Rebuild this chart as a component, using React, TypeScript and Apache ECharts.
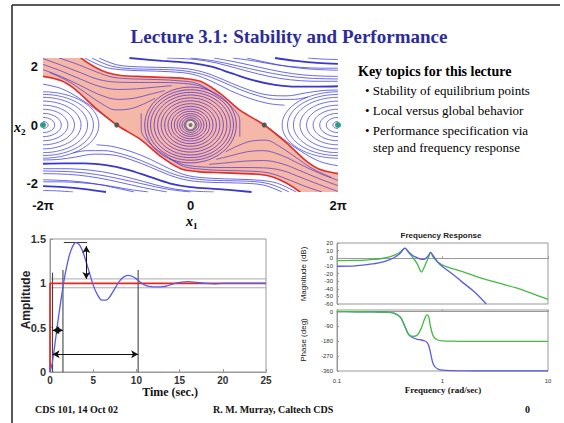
import React, { useEffect, useRef } from "react";
import * as echarts from "echarts";

const PI = Math.PI;
const SERIF = '"Liberation Serif", "Times New Roman", serif';
const SANS = '"Liberation Sans", Arial, sans-serif';

// ---------------- Phase portrait (x1, x2) ----------------
const xTickValues = [-2 * PI, 0, 2 * PI];
const xTickLabels = ["-2π", "0", "2π"];
const yTickValues = [-2, 0, 2];

const upperSep = [[-5.3, 2.75], [-4.66, 2.3], [-4.1, 2.0], [-3.53, 1.79], [-2.97, 1.7], [-2.0, 1.66], [-1.0, 1.63], [-0.3, 1.6], [0.42, 1.5], [1.27, 1.08], [2.12, 0.5], [3.14, 0], [4.1, -0.62], [4.94, -1.24], [5.5, -1.52], [6.28, -1.67], [7.0, -1.72]];
const lowerSep = [[-7.0, 1.72], [-6.28, 1.67], [-5.5, 1.52], [-4.94, 1.24], [-4.1, 0.62], [-3.14, 0], [-2.12, -0.5], [-1.27, -1.08], [-0.42, -1.5], [0.3, -1.6], [1.0, -1.63], [2.0, -1.66], [2.97, -1.7], [3.53, -1.79], [4.1, -2.0], [4.66, -2.3], [5.3, -2.75]];
const bandCorners = [[8.5, -4.5], [-8.5, 4.5]];

const centerRings = [[0.1, 0.08], [0.18, 0.13], [0.27, 0.19], [0.36, 0.25], [0.46, 0.32], [0.57, 0.39], [0.69, 0.47], [0.82, 0.55], [0.96, 0.64], [1.1, 0.73], [1.25, 0.83], [1.4, 0.93], [1.55, 1.03], [1.7, 1.12], [1.83, 1.21], [1.95, 1.3]];
const sideRings = [[0.22, 0.12], [0.5, 0.26], [0.78, 0.4], [1.06, 0.54], [1.34, 0.68], [1.62, 0.82], [1.9, 0.95], [2.15, 1.05], [2.38, 1.14]];

const topLines = [
  [[-4.5, 2.3], [-3.7, 2.0], [-3.0, 1.9], [-2.0, 1.86], [-0.9, 1.83], [0.1, 1.74], [0.9, 1.5], [1.7, 1.18], [2.5, 0.92], [3.3, 0.74], [4.0, 0.68]],
  [[-4.2, 2.3], [-3.4, 2.03], [-2.5, 1.93], [-1.4, 1.91], [-0.4, 1.87], [0.5, 1.74], [1.3, 1.5], [2.1, 1.22], [2.9, 1.0], [3.7, 0.88], [4.4, 0.88], [5.0, 0.96]],
  [[-3.9, 2.3], [-3.1, 2.06], [-2.0, 1.99], [-0.9, 1.97], [0.1, 1.9], [0.9, 1.72], [1.7, 1.45], [2.5, 1.2], [3.3, 1.03], [4.1, 1.0], [4.9, 1.1], [5.6, 1.18], [6.28, 1.2]],
  [[-1.0, 2.3], [0.2, 2.25], [1.1, 2.13], [2.0, 1.94], [2.9, 1.75], [3.8, 1.6], [4.7, 1.52], [5.5, 1.5], [6.28, 1.5]],
  [[0.0, 2.3], [1.0, 2.2], [2.0, 2.03], [3.0, 1.85], [4.0, 1.7], [5.0, 1.61], [6.28, 1.58]],
  [[1.0, 2.3], [2.0, 2.15], [3.0, 1.97], [3.9, 1.82], [4.8, 1.72], [5.6, 1.68], [6.28, 1.67]],
  [[1.8, 2.3], [2.7, 2.2], [3.7, 2.06], [4.7, 1.98], [5.6, 1.95], [6.28, 1.95]],
  [[2.4, 2.3], [3.3, 2.14], [4.2, 2.0], [5.1, 1.92], [6.28, 1.88]],
  [[5.0, 2.3], [5.7, 2.26], [6.28, 2.25]],
];
const topDarkLines = [
  [[-2.6, 2.3], [-1.2, 2.2], [0, 2.13], [0.9, 2.0], [1.8, 1.76], [2.7, 1.53], [3.6, 1.38], [4.5, 1.32], [5.4, 1.32], [6.28, 1.33]],
  [[3.6, 2.3], [4.5, 2.2], [5.4, 2.13], [6.28, 2.1]],
];
const bottomLines = [
  [[4.5, -2.3], [3.7, -2.0], [3.0, -1.9], [2.0, -1.86], [0.9, -1.83], [-0.1, -1.74], [-0.9, -1.5], [-1.7, -1.18], [-2.5, -0.92], [-3.3, -0.74], [-4.0, -0.68]],
  [[4.2, -2.3], [3.4, -2.03], [2.5, -1.93], [1.4, -1.91], [0.4, -1.87], [-0.5, -1.74], [-1.3, -1.5], [-2.1, -1.22], [-2.9, -1.0], [-3.7, -0.88], [-4.4, -0.88], [-5.0, -0.96]],
  [[3.9, -2.3], [3.1, -2.06], [2.0, -1.99], [0.9, -1.97], [-0.1, -1.9], [-0.9, -1.72], [-1.7, -1.45], [-2.5, -1.2], [-3.3, -1.03], [-4.1, -1.0], [-4.9, -1.1], [-5.6, -1.18], [-6.28, -1.2]],
  [[1.0, -2.3], [-0.2, -2.25], [-1.1, -2.13], [-2.0, -1.94], [-2.9, -1.75], [-3.8, -1.6], [-4.7, -1.52], [-5.5, -1.5], [-6.28, -1.5]],
  [[0.0, -2.3], [-1.0, -2.2], [-2.0, -2.03], [-3.0, -1.85], [-4.0, -1.7], [-5.0, -1.61], [-6.28, -1.58]],
  [[-1.0, -2.3], [-2.0, -2.15], [-3.0, -1.97], [-3.9, -1.82], [-4.8, -1.72], [-5.6, -1.68], [-6.28, -1.67]],
  [[-1.8, -2.3], [-2.7, -2.2], [-3.7, -2.06], [-4.7, -1.98], [-5.6, -1.95], [-6.28, -1.95]],
  [[-2.4, -2.3], [-3.3, -2.14], [-4.2, -2.0], [-5.1, -1.92], [-6.28, -1.88]],
  [[-5.0, -2.3], [-5.7, -2.26], [-6.28, -2.25]],
];
const bottomDarkLines = [
  [[2.6, -2.3], [1.2, -2.2], [0, -2.13], [-0.9, -2.0], [-1.8, -1.76], [-2.7, -1.53], [-3.6, -1.38], [-4.5, -1.32], [-5.4, -1.32], [-6.28, -1.33]],
  [[-3.6, -2.3], [-4.5, -2.2], [-5.4, -2.13], [-6.28, -2.1]],
];
const bandUpperLines = [
  [[-5.6, 2.3], [-4.8, 2.08], [-4.0, 1.82], [-3.3, 1.64], [-2.4, 1.58], [-1.4, 1.56], [-0.5, 1.52], [0.3, 1.42], [1.0, 1.08], [1.7, 0.66], [2.1, 0.15], [2.1, -0.4]],
  [[-6.28, 2.28], [-5.5, 2.05], [-4.7, 1.8], [-3.9, 1.56], [-3.1, 1.47], [-2.2, 1.46], [-1.3, 1.46], [-0.5, 1.44], [0.3, 1.36], [0.9, 1.16]],
  [[-6.28, 2.08], [-5.5, 1.85], [-4.7, 1.58], [-3.9, 1.33], [-3.1, 1.22], [-2.3, 1.24], [-1.5, 1.3], [-0.8, 1.35]],
  [[-6.28, 1.9], [-5.5, 1.66], [-4.7, 1.36], [-3.9, 1.05], [-3.1, 0.88], [-2.4, 0.92], [-1.7, 1.06], [-1.1, 1.18]],
  [[-6.0, 1.8], [-5.2, 1.5], [-4.5, 1.12], [-3.8, 0.74], [-3.2, 0.52], [-2.6, 0.55], [-2.0, 0.72], [-1.5, 0.92]],
];
const bandLowerLines = [
  [[5.6, -2.3], [4.8, -2.08], [4.0, -1.82], [3.3, -1.64], [2.4, -1.58], [1.4, -1.56], [0.5, -1.52], [-0.3, -1.42], [-1.0, -1.08], [-1.7, -0.66], [-2.1, -0.15], [-2.1, 0.4]],
  [[6.28, -2.28], [5.5, -2.05], [4.7, -1.8], [3.9, -1.56], [3.1, -1.47], [2.2, -1.46], [1.3, -1.46], [0.5, -1.44], [-0.3, -1.36], [-0.9, -1.16]],
  [[6.28, -2.08], [5.5, -1.85], [4.7, -1.58], [3.9, -1.33], [3.1, -1.22], [2.3, -1.24], [1.5, -1.3], [0.8, -1.35]],
  [[6.28, -1.9], [5.5, -1.66], [4.7, -1.36], [3.9, -1.05], [3.1, -0.88], [2.4, -0.92], [1.7, -1.06], [1.1, -1.18]],
  [[6.0, -1.8], [5.2, -1.5], [4.5, -1.12], [3.8, -0.74], [3.2, -0.52], [2.6, -0.55], [2.0, -0.72], [1.5, -0.92]],
];
const manifoldLines = [
  [[-3.3, 0.08], [-3.9, 0.45], [-4.7, 0.9], [-5.5, 1.25], [-6.28, 1.4]],
  [[3.3, -0.08], [3.9, -0.45], [4.7, -0.9], [5.5, -1.25], [6.28, -1.4]],
];
const saddlePoints = [[-PI, 0], [PI, 0]];
const sinkPoints = [[-2 * PI, 0], [2 * PI, 0]];
const originPoint = [[0, 0]];

// ---------------- Step response ----------------
const stepT = [0, 0.25, 0.5, 0.75, 1, 1.25, 1.5, 1.75, 2, 2.25, 2.5, 2.75, 3, 3.25, 3.5, 3.75, 4, 4.5, 5, 5.5, 6, 6.5, 7, 7.5, 8, 8.5, 9, 9.5, 10, 10.5, 11, 11.5, 12, 12.5, 13, 13.5, 14, 15, 16, 17, 18, 19, 20, 22, 25];
const stepY = [0, 0.1, 0.26, 0.45, 0.63, 0.8, 0.96, 1.1, 1.22, 1.32, 1.39, 1.44, 1.46, 1.45, 1.42, 1.37, 1.3, 1.14, 0.98, 0.87, 0.81, 0.81, 0.86, 0.94, 1.02, 1.07, 1.09, 1.08, 1.05, 1.01, 0.98, 0.965, 0.96, 0.96, 0.962, 0.97, 0.985, 1.01, 1.02, 1.01, 1.0, 0.995, 1.0, 1.0, 1.0];
const inputT = [0, 0, 25];
const inputY = [0, 1, 1];
const settleBand = [1.05, 0.95];
const markerVerticals = [[0.3, 1.12], [1.5, 1.15], [10.2, 1.15]];
const peakLine = [[1.6, 1.46], [4.3, 1.46]];
const arrowSegments = [
  [[0.3, 0.47], [1.5, 0.47]],
  [[0.3, 0.2], [10.2, 0.2]],
  [[4.2, 1.42], [4.2, 1.05]],
];

// ---------------- Frequency response ----------------
const freqs = [0.1, 0.15, 0.2, 0.25, 0.3, 0.35, 0.4, 0.44, 0.48, 0.53, 0.58, 0.63, 0.68, 0.71, 0.74, 0.77, 0.82, 0.9, 1.0, 1.2, 1.5, 2.0, 2.6, 3.5, 5, 7, 10];
const blueMag = [-10.5, -10, -8, -6, -3, 1, 7, 13.4, 8, 3, 0.5, -1.5, -1, 1, 4, 7.8, 3, -5, -11, -19, -30, -44, -60, null, null, null, null];
const greenMag = [-3, -2.8, -2, -1, 1, 4, 8.5, 13.4, 7, 0, -8, -18, -10, -4, 2, 7.8, 1, -5, -9, -13, -17, -23, -28, -33, -39, -46, -54];
const bluePhase = [0, -0.5, -1, -2, -4, -10, -35, -90, -140, -160, -168, -172, -178, -185, -205, -250, -320, -348, -355, -358, -359, -360, -360, -360, -360, -360, -360];
const greenPhase = [0, -0.5, -1, -2, -4, -10, -35, -90, -140, -150, -140, -100, -40, -20, -30, -90, -150, -172, -177, -179, -180, -180, -180, -180, -180, -180, -180];

const pairs = (xs: number[], ys: (number | null)[]) =>
  xs.map((x, i) => [x, ys[i]]).filter((p) => p[1] !== null);

function buildOption() {
  const clipOf = (params: any) => ({
    type: "rect",
    shape: { x: params.coordSys.x, y: params.coordSys.y, width: params.coordSys.width, height: params.coordSys.height },
  });
  const bandPolygon = [...upperSep, bandCorners[0], ...[...lowerSep].reverse(), bandCorners[1]];

  const streamLine = (pts: number[][], color: string, width: number, opacity: number) => ({
    type: "line",
    xAxisIndex: 0,
    yAxisIndex: 0,
    data: pts,
    smooth: 0.35,
    symbol: "none",
    silent: true,
    z: 3,
    lineStyle: { color, width, opacity },
  });

  const ringSeries = (items: number[][], color: string, width: number) => ({
    type: "custom",
    xAxisIndex: 0,
    yAxisIndex: 0,
    silent: true,
    z: 3,
    data: items,
    renderItem: (params: any, api: any) => {
      const c = api.coord([api.value(0), 0]);
      const s = api.size([api.value(1), api.value(2)]);
      return {
        type: "group",
        clipPath: clipOf(params),
        children: [
          {
            type: "ellipse",
            shape: { cx: c[0], cy: c[1], rx: s[0], ry: s[1] },
            style: { fill: "none", stroke: color, lineWidth: width, opacity: 0.8 },
          },
        ],
      };
    },
  });

  const sepSeries = (pts: number[][]) => ({
    type: "custom",
    xAxisIndex: 0,
    yAxisIndex: 0,
    silent: true,
    z: 4,
    data: [[0, 0]],
    renderItem: (params: any, api: any) => ({
      type: "group",
      clipPath: clipOf(params),
      children: [
        {
          type: "polyline",
          shape: { points: pts.map((p) => api.coord(p)), smooth: 0.3 },
          style: { fill: "none", stroke: "#e0302a", lineWidth: 1.6 },
        },
      ],
    }),
  });

  const series: any[] = [];
  series.push({
    type: "custom",
    xAxisIndex: 0,
    yAxisIndex: 0,
    silent: true,
    z: 1,
    data: [[0, 0]],
    renderItem: (params: any, api: any) => ({
      type: "group",
      clipPath: clipOf(params),
      children: [
        {
          type: "polygon",
          shape: { points: bandPolygon.map((p) => api.coord(p)), smooth: 0.3 },
          style: { fill: "#f4b7a8" },
        },
      ],
    }),
  });
  topLines.forEach((l) => series.push(streamLine(l, "#3a3ae2", 0.9, 0.85)));
  bottomLines.forEach((l) => series.push(streamLine(l, "#3a3ae2", 0.9, 0.85)));
  topDarkLines.forEach((l) => series.push(streamLine(l, "#2222c8", 1.8, 0.9)));
  bottomDarkLines.forEach((l) => series.push(streamLine(l, "#2222c8", 1.8, 0.9)));
  bandUpperLines.forEach((l) => series.push(streamLine(l, "#5038d0", 0.9, 0.8)));
  bandLowerLines.forEach((l) => series.push(streamLine(l, "#5038d0", 0.9, 0.8)));
  manifoldLines.forEach((l) => series.push(streamLine(l, "#3a3ae2", 0.9, 0.85)));
  series.push(ringSeries(centerRings.map((r) => [0, r[0], r[1]]), "#4a26cc", 0.9));
  series.push(
    ringSeries(
      [...sideRings.map((r) => [sinkPoints[0][0], r[0], r[1]]), ...sideRings.map((r) => [sinkPoints[1][0], r[0], r[1]])],
      "#3a3ae2",
      0.9
    )
  );
  series.push(sepSeries(upperSep));
  series.push(sepSeries(lowerSep));
  series.push({
    type: "scatter", xAxisIndex: 0, yAxisIndex: 0, silent: true, z: 6,
    data: saddlePoints, symbolSize: 5, itemStyle: { color: "#555", opacity: 1 },
  });
  series.push({
    type: "scatter", xAxisIndex: 0, yAxisIndex: 0, silent: true, z: 6,
    data: sinkPoints, symbolSize: 6, itemStyle: { color: "#2a9d86", opacity: 1 },
  });
  series.push({
    type: "scatter", xAxisIndex: 0, yAxisIndex: 0, silent: true, z: 6,
    data: originPoint, symbolSize: 10, itemStyle: { color: "#f7dcd2", borderColor: "#777", borderWidth: 1.5, opacity: 1 },
  });
  series.push({
    type: "scatter", xAxisIndex: 0, yAxisIndex: 0, silent: true, z: 7,
    data: originPoint, symbolSize: 4, itemStyle: { color: "#777", opacity: 1 },
  });

  // step response
  settleBand.forEach((v) =>
    series.push({
      type: "line", xAxisIndex: 1, yAxisIndex: 1, silent: true, symbol: "none",
      data: [[0, v], [25, v]], lineStyle: { color: "#aaa", width: 1 },
    })
  );
  markerVerticals.forEach((m) =>
    series.push({
      type: "line", xAxisIndex: 1, yAxisIndex: 1, silent: true, symbol: "none",
      data: [[m[0], 0], [m[0], m[1]]], lineStyle: { color: "#333", width: 1 },
    })
  );
  series.push({
    type: "line", xAxisIndex: 1, yAxisIndex: 1, silent: true, symbol: "none",
    data: peakLine, lineStyle: { color: "#333", width: 1 },
  });
  series.push({
    type: "line", xAxisIndex: 1, yAxisIndex: 1, silent: true, symbol: "none",
    data: pairs(inputT, inputY), lineStyle: { color: "#e8261e", width: 1.6 },
    markLine: {
      silent: true,
      symbol: ["arrow", "arrow"],
      symbolSize: [6, 7],
      label: { show: false },
      lineStyle: { color: "#111", width: 1, type: "solid" },
      emphasis: { disabled: true },
      data: arrowSegments.map((s) => [{ coord: s[0] }, { coord: s[1] }]),
    },
  });
  series.push({
    type: "line", xAxisIndex: 1, yAxisIndex: 1, silent: true, symbol: "none", smooth: 0.3,
    data: pairs(stepT, stepY), lineStyle: { color: "#5a5ae8", width: 1.3 },
  });

  // bode
  series.push({
    type: "line", xAxisIndex: 2, yAxisIndex: 2, silent: true, symbol: "none", smooth: 0.3,
    data: pairs(freqs, greenMag), lineStyle: { color: "#44bb44", width: 1.3 },
  });
  series.push({
    type: "line", xAxisIndex: 2, yAxisIndex: 2, silent: true, symbol: "none", smooth: 0.3,
    data: pairs(freqs, blueMag), lineStyle: { color: "#5a5ae6", width: 1.3 },
  });
  series.push({
    type: "line", xAxisIndex: 3, yAxisIndex: 3, silent: true, symbol: "none", smooth: 0.3,
    data: pairs(freqs, bluePhase), lineStyle: { color: "#5a5ae6", width: 1.3 },
  });
  series.push({
    type: "line", xAxisIndex: 3, yAxisIndex: 3, silent: true, symbol: "none", smooth: 0.3,
    data: pairs(freqs, greenPhase), lineStyle: { color: "#44bb44", width: 1.3 },
  });

  const boxAxisLine = { show: true, lineStyle: { color: "#999", width: 1 } };
  const innerTick = { show: true, inside: true, length: 3, lineStyle: { color: "#999" } };

  const txt = (text: string, x: number, y: number, font: string, fill = "#111", align = "left", extra: any = {}) => ({
    type: "text",
    x,
    y,
    silent: true,
    ...extra,
    style: { text, font, fill, textAlign: align, align, textVerticalAlign: "middle", verticalAlign: "middle" },
  });

  const graphic = [
    { type: "line", silent: true, shape: { x1: 12, y1: 5, x2: 560, y2: 5 }, style: { stroke: "#222", lineWidth: 1.5 } },
    { type: "line", silent: true, shape: { x1: 12, y1: 5, x2: 12, y2: 423 }, style: { stroke: "#222", lineWidth: 1.5 } },
    txt("Lecture 3.1: Stability and Performance", 289, 36, `bold 19px ${SERIF}`, "#2b2b9c", "center"),
    txt("Key topics for this lecture", 358, 71, `bold 14px ${SERIF}`, "#000"),
    txt("• Stability of equilibrium points", 365, 90, `13px ${SERIF}`, "#000"),
    txt("• Local versus global behavior", 365, 110, `13px ${SERIF}`, "#000"),
    txt("• Performance specification via", 365, 130, `13px ${SERIF}`, "#000"),
    txt("step and frequency response", 373, 147, `13px ${SERIF}`, "#000"),
    txt("x", 14, 127, `italic bold 14px ${SERIF}`, "#000"),
    txt("2", 21, 132, `bold 9px ${SERIF}`, "#000"),
    txt("x", 186, 221, `italic bold 14px ${SERIF}`, "#000"),
    txt("1", 193, 226, `bold 9px ${SERIF}`, "#000"),
    txt("Amplitude", 26, 300, `bold 12px ${SANS}`, "#222", "center", { rotation: PI / 2 }),
    txt("Time (sec.)", 170, 392, `bold 12px ${SERIF}`, "#111", "center"),
    txt("Frequency Response", 441, 235, `bold 8px ${SANS}`, "#222", "center"),
    txt("Magnitude (dB)", 303, 274, `8px ${SANS}`, "#222", "center", { rotation: PI / 2 }),
    txt("Phase (deg)", 303, 340, `8px ${SANS}`, "#222", "center", { rotation: PI / 2 }),
    txt("Frequency (rad/sec)", 443, 390, `bold 9px ${SERIF}`, "#111", "center"),
    txt("CDS 101, 14 Oct 02", 35, 409, `bold 10px ${SERIF}`, "#111"),
    txt("R. M. Murray, Caltech CDS", 213, 409, `bold 10px ${SERIF}`, "#111"),
    txt("0", 525, 409, `bold 10px ${SERIF}`, "#111"),
  ];

  return {
    animation: false,
    backgroundColor: "#ffffff",
    grid: [
      { left: 43, top: 58, width: 295, height: 134, show: false },
      { left: 50, top: 239, width: 216, height: 133, show: true, borderColor: "#999", borderWidth: 1 },
      { left: 337, top: 243, width: 211, height: 61, show: true, borderColor: "#999", borderWidth: 1 },
      { left: 337, top: 310, width: 211, height: 61, show: true, borderColor: "#999", borderWidth: 1 },
    ],
    xAxis: [
      {
        gridIndex: 0, type: "value", min: -2 * PI, max: 2 * PI,
        axisLine: { show: false }, axisTick: { show: false }, splitLine: { show: false },
        axisLabel: {
          customValues: xTickValues,
          formatter: (v: number) => {
            const i = xTickValues.findIndex((t) => Math.abs(t - v) < 1e-3);
            return i >= 0 ? xTickLabels[i] : "";
          },
          fontFamily: SANS, fontWeight: "bold", fontSize: 13, color: "#111", margin: 7,
        },
      },
      {
        gridIndex: 1, type: "value", min: 0, max: 25, interval: 5,
        axisLine: boxAxisLine, axisTick: innerTick, splitLine: { show: false },
        axisLabel: { fontFamily: SANS, fontWeight: "bold", fontSize: 10, color: "#333", margin: 3 },
      },
      {
        gridIndex: 2, type: "log", logBase: 10, min: 0.1, max: 10,
        axisLine: boxAxisLine, axisTick: { ...innerTick, length: 2 }, splitLine: { show: false },
        axisLabel: { show: false },
      },
      {
        gridIndex: 3, type: "log", logBase: 10, min: 0.1, max: 10,
        axisLine: boxAxisLine, axisTick: { ...innerTick, length: 2 }, splitLine: { show: false },
        axisLabel: { fontFamily: SANS, fontSize: 6, color: "#333", margin: 7 },
      },
    ],
    yAxis: [
      {
        gridIndex: 0, type: "value", min: -2.3, max: 2.3,
        axisLine: { show: false }, axisTick: { show: false }, splitLine: { show: false },
        axisLabel: {
          customValues: yTickValues,
          formatter: (v: number) => String(Math.round(v)),
          fontFamily: SANS, fontWeight: "bold", fontSize: 13, color: "#111", margin: 5,
        },
      },
      {
        gridIndex: 1, type: "value", min: 0, max: 1.5, interval: 0.5,
        axisLine: boxAxisLine, axisTick: innerTick, splitLine: { show: false },
        axisLabel: { fontFamily: SANS, fontWeight: "bold", fontSize: 11, color: "#333", margin: 4 },
      },
      {
        gridIndex: 2, type: "value", min: -60, max: 20, interval: 10,
        axisLine: boxAxisLine, axisTick: { ...innerTick, length: 2 }, splitLine: { show: false },
        axisLabel: { fontFamily: SANS, fontSize: 6, color: "#333", margin: 4 },
      },
      {
        gridIndex: 3, type: "value", min: -360, max: 10, interval: 90,
        axisLine: boxAxisLine, axisTick: { ...innerTick, length: 2 }, splitLine: { show: false },
        axisLabel: { fontFamily: SANS, fontSize: 6, color: "#333", margin: 4, showMaxLabel: false },
      },
    ],
    graphic,
    series,
  };
}

export default function App() {
  const ref = useRef<HTMLDivElement>(null);
  useEffect(() => {
    if (!ref.current) return;
    const chart = echarts.init(ref.current, undefined, { renderer: "svg" });
    chart.setOption(buildOption() as any);
    return () => chart.dispose();
  }, []);
  return (
    <div
      ref={ref}
      style={{ position: "fixed", left: 0, top: 0, width: 564, height: 423, background: "#fff" }}
    />
  );
}
